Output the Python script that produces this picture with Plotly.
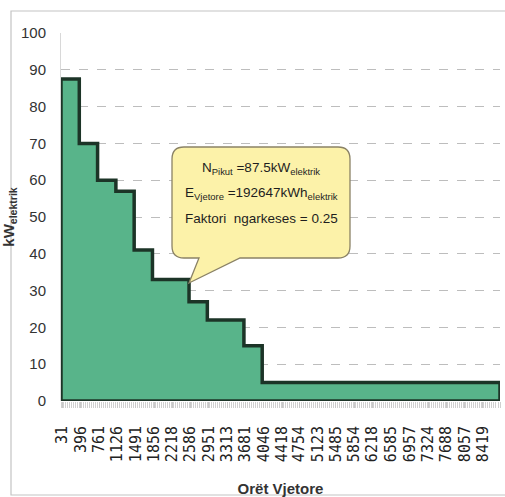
import plotly.graph_objects as go

# ---- data ----
step_start_hours = [0, 365, 730, 1095, 1460, 1825, 2555, 2920, 3650, 4015]
step_kw = [87.5, 70, 60, 57, 41, 33, 27, 22, 15, 5]
end_hour = 8760
tick_hours = [31, 396, 761, 1126, 1491, 1856, 2218, 2586, 2951, 3313, 3681, 4046,
              4418, 4754, 5123, 5485, 5854, 6218, 6585, 6957, 7324, 7688, 8057, 8419]
tick_labels = [str(t) for t in tick_hours]
y_ticks = list(range(0, 101, 10))

# closed stepped polygon
px, py = [step_start_hours[0]], [0]
for i, (h, v) in enumerate(zip(step_start_hours, step_kw)):
    nxt = step_start_hours[i + 1] if i + 1 < len(step_start_hours) else end_hour
    px += [h, nxt]
    py += [v, v]
px += [end_hour, step_start_hours[0]]
py += [0, 0]

W, H = 505, 497
L, R, T, B = 61, 5, 33, 96

fig = go.Figure()
fig.add_trace(go.Scatter(
    x=px, y=py, mode="lines", fill="toself",
    fillcolor="#58b48a", line=dict(color="#1c3427", width=3.5),
    hoverinfo="skip", showlegend=False))

def to_x(p):
    return (p - L) * end_hour / (W - L - R)

def to_y(p):
    return (H - B - p) * 100 / (H - B - T)

# callout box (rounded rectangle with tail)
bx0, bx1 = to_x(172), to_x(350)
by0, by1 = to_y(258), to_y(147)
rx, ry = 12 * end_hour / (W - L - R), 12 * 100 / (H - B - T)
t1, tip, t2 = to_x(199), (to_x(189), to_y(283)), to_x(240)
path = (f"M {bx0+rx},{by1} L {bx1-rx},{by1} Q {bx1},{by1} {bx1},{by1-ry} "
        f"L {bx1},{by0+ry} Q {bx1},{by0} {bx1-rx},{by0} "
        f"L {t2},{by0} L {tip[0]},{tip[1]} L {t1},{by0} "
        f"L {bx0+rx},{by0} Q {bx0},{by0} {bx0},{by0+ry} "
        f"L {bx0},{by1-ry} Q {bx0},{by1} {bx0+rx},{by1} Z")
fig.add_shape(type="path", path=path, xref="x", yref="y",
              fillcolor="#fcf2a9", line=dict(color="#8a8266", width=1.3), layer="above")

cx = (bx0 + bx1) / 2
box_font = dict(family="Liberation Sans, Arial", size=13.5, color="#1e1e1e")
lines = ["N<sub>Pikut</sub> =87.5kW<sub>elektrik</sub>",
         "E<sub>Vjetore</sub> =192647kWh<sub>elektrik</sub>",
         "Faktori  ngarkeses = 0.25"]
for txt, yp in zip(lines, [168, 193, 218]):
    fig.add_annotation(x=cx, y=to_y(yp), xref="x", yref="y", text=txt,
                       showarrow=False, font=box_font, xanchor="center", yanchor="middle")

# outer frame
fig.add_shape(type="rect", xref="paper", yref="paper",
              x0=(11 - L) / (W - L - R), x1=(W + 5 - L) / (W - L - R),
              y0=(H - B - 495) / (H - B - T), y1=(H - B - 11) / (H - B - T),
              line=dict(color="#c4c4c4", width=1.2), fillcolor="rgba(0,0,0,0)", layer="above")

fig.update_layout(
    width=W, height=H,
    margin=dict(l=L, r=R, t=T, b=B),
    paper_bgcolor="white", plot_bgcolor="white",
    xaxis=dict(range=[0, end_hour], tickmode="array", tickvals=tick_hours, ticktext=tick_labels,
               tickangle=-90, showgrid=False, zeroline=False, automargin=False,
               ticks="outside", ticklen=6, tickcolor="#c8c8c8",
               minor=dict(ticks="outside", ticklen=6, dtick=40, tick0=0, tickcolor="#d0d0d0"),
               tickfont=dict(family="DejaVu Sans Mono", size=15, color="#222"),
               ticklabelstandoff=12,
               title=dict(text="<b>Orët Vjetore</b>", standoff=22,
                          font=dict(family="Liberation Sans, Arial", size=15, color="#333"))),
    yaxis=dict(range=[0, 100], tickvals=y_ticks, showgrid=True, gridcolor="#bdbdbd",
               griddash="dash", gridwidth=1, zeroline=False, automargin=False,
               showline=True, linecolor="#d8d8d8", linewidth=1,
               ticks="outside", ticklen=11, tickcolor="rgba(0,0,0,0)",
               tickfont=dict(family="Liberation Sans, Arial", size=15, color="#333"),
               title=dict(text="<b>kW<sub>elektrik</sub></b>", standoff=2,
                          font=dict(family="Liberation Sans, Arial", size=15, color="#333"))),
)

fig.write_html("out.html", config={"displayModeBar": False},
               post_script="document.body.style.margin='0';document.body.style.overflow='hidden';")
